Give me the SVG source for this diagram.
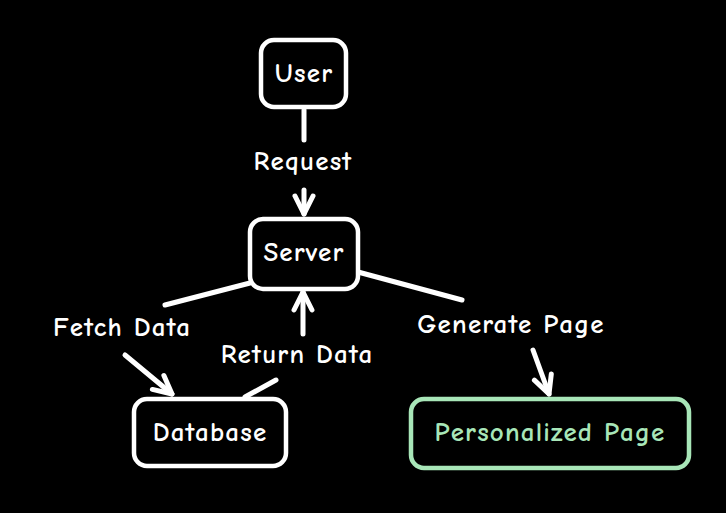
<svg xmlns="http://www.w3.org/2000/svg" width="726" height="513" viewBox="0 0 726 513">
<defs>
<style>
.box{fill:#000;stroke:#fff;stroke-width:4.5}
.green{fill:#000;stroke:#a8e6b8;stroke-width:4.5}
.lbl{font-family:"Comic Neue","Liberation Sans",sans-serif;font-size:27px;font-weight:bold;letter-spacing:1.2px;fill:#fff;text-anchor:middle;dominant-baseline:central}
.glbl{font-family:"Comic Neue","Liberation Sans",sans-serif;font-size:27px;font-weight:bold;letter-spacing:1.2px;fill:#a8e6b8;text-anchor:middle;dominant-baseline:central}
.edge{fill:none;stroke:#fff;stroke-width:5;stroke-linecap:round;stroke-linejoin:round}
</style>
<marker id="ah" viewBox="0 0 24 24" refX="21" refY="12" markerWidth="24" markerHeight="24" markerUnits="userSpaceOnUse" orient="auto">
<path d="M3,3 L21,12 L3,21" fill="none" stroke="#fff" stroke-width="5" stroke-linecap="round" stroke-linejoin="round"/>
</marker>
</defs>
<rect width="726" height="513" fill="#000"/>
<g id="connectors">
<path class="edge" d="M304,110 L304,140"/>
<path class="edge" d="M304,190 L304,214" marker-end="url(#ah)"/>
<path class="edge" d="M250,283 L165,305"/>
<path class="edge" d="M125,355 L172,394" marker-end="url(#ah)"/>
<path class="edge" d="M245,397 L276,380"/>
<path class="edge" d="M303,334 L303,292" marker-end="url(#ah)"/>
<path class="edge" d="M533,350 L549,394" marker-end="url(#ah)"/>
<path class="edge" d="M358,272 L462,300"/>
<text class="lbl" x="303" y="161">Request</text>
<text class="lbl" x="122" y="327">Fetch Data</text>
<text class="lbl" x="297" y="354">Return Data</text>
<text class="lbl" x="511" y="324">Generate Page</text>
</g>
<g id="user">
<rect class="box" x="261" y="40" width="85" height="67" rx="13"/>
<text class="lbl" x="304" y="73">User</text>
</g>
<g id="server">
<rect class="box" x="250" y="219" width="108" height="70" rx="13"/>
<text class="lbl" x="304" y="252">Server</text>
</g>
<g id="database">
<rect class="box" x="134" y="399" width="152" height="67" rx="13"/>
<text class="lbl" x="210" y="432">Database</text>
</g>
<g id="personalized">
<rect class="green" x="411" y="399" width="278" height="69" rx="13"/>
<text class="glbl" x="550" y="432">Personalized Page</text>
</g>
</svg>
